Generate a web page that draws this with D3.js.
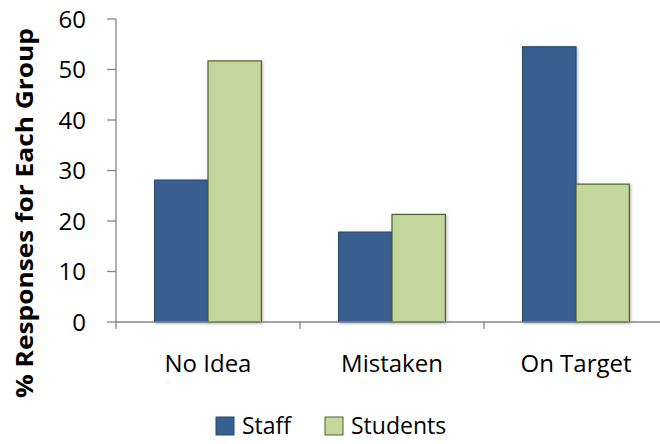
<!DOCTYPE html>
<html>
<head>
<meta charset="utf-8">
<script src="https://d3js.org/d3.v7.min.js"></script>
<style>
  body { margin: 0; background: #fff; }
  text { font-family: "Open Sans", "Noto Sans", sans-serif; fill: #000; }
</style>
</head>
<body>
<div id="chart"></div>
<script>
const categories = ["No Idea", "Mistaken", "On Target"];
const seriesNames = ["Staff", "Students"];
const staffValues = [28.1, 17.8, 54.5];
const studentValues = [51.7, 21.3, 27.3];
const yTicks = [0, 10, 20, 30, 40, 50, 60];

const colors = { Staff: "#375F8F", Students: "#C3D69B" };
const strokes = { Staff: "#2B4A70", Students: "#4F6228" };

const width = 660, height = 444;
const svg = d3.select("#chart").append("svg")
    .attr("width", width).attr("height", height);

const defs = svg.append("defs");
const f = defs.append("filter").attr("id", "shadow")
    .attr("x", "-20%").attr("y", "-5%").attr("width", "140%").attr("height", "110%");
f.append("feDropShadow").attr("dx", 1).attr("dy", 1).attr("stdDeviation", 1.5)
    .attr("flood-color", "#000").attr("flood-opacity", 0.3);

const x0 = d3.scaleBand().domain(categories).range([116, 668])
    .paddingInner(0.42).paddingOuter(0.21);
const x1 = d3.scaleBand().domain(seriesNames).range([0, x0.bandwidth()]);
const y = d3.scaleLinear().domain([0, 60]).range([322, 19]);

// y axis
svg.append("line").attr("x1", 116).attr("x2", 116).attr("y1", y(60)).attr("y2", y(0))
    .attr("stroke", "#868686").attr("stroke-width", 1.3);
svg.selectAll(".ytick").data(yTicks).enter().append("line")
    .attr("x1", 107).attr("x2", 116).attr("y1", d => y(d)).attr("y2", d => y(d))
    .attr("stroke", "#868686").attr("stroke-width", 1.3);
svg.selectAll(".ylab").data(yTicks).enter().append("text")
    .attr("x", 86).attr("y", d => y(d)).attr("dy", "0.36em")
    .attr("text-anchor", "end").style("font-size", "24px").text(d => d);

// bars
const rows = categories.map((c, i) => ({ cat: c, vals: [
    { key: "Staff", v: staffValues[i] }, { key: "Students", v: studentValues[i] }] }));
const grp = svg.selectAll(".grp").data(rows).enter().append("g")
    .attr("transform", d => `translate(${x0(d.cat)},0)`);
grp.selectAll("rect").data(d => d.vals).enter().append("rect")
    .attr("x", d => x1(d.key)).attr("width", x1.bandwidth())
    .attr("y", d => y(d.v)).attr("height", d => y(0) - y(d.v))
    .attr("fill", d => colors[d.key]).attr("stroke", d => strokes[d.key])
    .attr("stroke-width", 1.2).attr("filter", "url(#shadow)");

// x axis
svg.append("line").attr("x1", 116).attr("x2", 668).attr("y1", y(0)).attr("y2", y(0))
    .attr("stroke", "#868686").attr("stroke-width", 1.3);
const step = x0.step();
svg.selectAll(".xtick").data(d3.range(categories.length + 1)).enter().append("line")
    .attr("x1", d => 116 + d * step).attr("x2", d => 116 + d * step)
    .attr("y1", y(0)).attr("y2", y(0) + 7)
    .attr("stroke", "#868686").attr("stroke-width", 1.3);
svg.selectAll(".xlab").data(categories).enter().append("text")
    .attr("x", d => x0(d) + x0.bandwidth() / 2).attr("y", 372)
    .attr("text-anchor", "middle").style("font-size", "24px").text(d => d);

// y title
svg.append("text").attr("transform", "translate(33,213) rotate(-90)")
    .attr("text-anchor", "middle").style("font-size", "24px").style("font-weight", "bold")
    .attr("textLength", 370).attr("lengthAdjust", "spacingAndGlyphs")
    .text("% Responses for Each Group");

// legend
const legendItems = [{ key: "Staff", x: 216 }, { key: "Students", x: 325 }];
const lg = svg.selectAll(".leg").data(legendItems).enter().append("g")
    .attr("transform", d => `translate(${d.x},417)`);
lg.append("rect").attr("width", 18).attr("height", 18)
    .attr("fill", d => colors[d.key]).attr("stroke", d => strokes[d.key]).attr("stroke-width", 1);
lg.append("text").attr("x", 26).attr("y", 17)
    .style("font-size", "23px").text(d => d.key);
</script>
</body>
</html>
